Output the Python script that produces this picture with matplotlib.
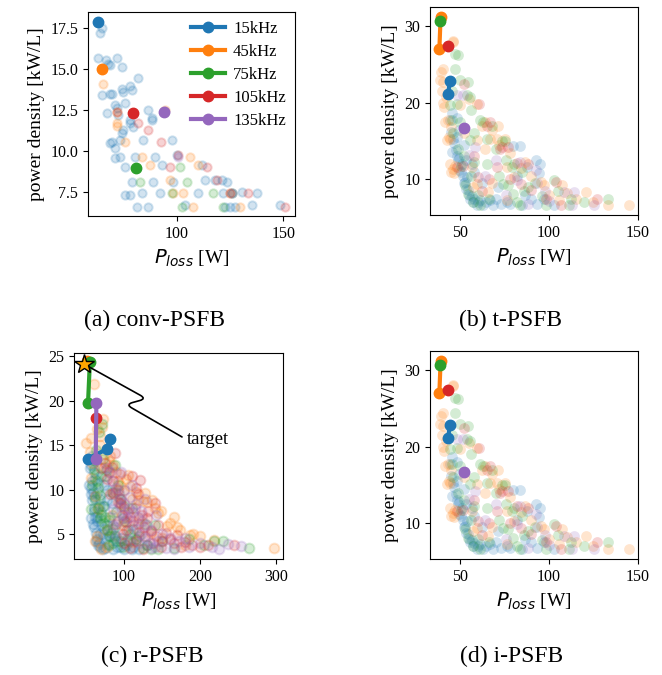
import matplotlib
matplotlib.use("Agg")
import matplotlib.pyplot as plt

plt.rcParams['font.family'] = ['Liberation Serif', 'DejaVu Serif']
plt.rcParams['mathtext.fontset'] = 'dejavusans'

freqs = ['15kHz', '45kHz', '75kHz', '105kHz', '135kHz']
colors = ['tab:blue', 'tab:orange', 'tab:green', 'tab:red', 'tab:purple']

# --- (a) conv-PSFB: all designs (faded) ---
a_blue_x = [64.8, 64.1, 63.3, 66.9, 68.0, 71.9, 74.2, 68.8, 64.8, 68.8, 69.5, 75.0, 78.9, 74.2, 78.1, 82.0,
            67.2, 71.1, 71.9, 75.8, 72.5, 68.8, 69.5, 71.1, 73.4, 74.2, 75.0, 78.1, 79.7, 78.1, 86.7, 88.3,
            88.3, 84.4, 97.7, 71.1, 73.4, 75.8, 80.5, 89.8, 92.9, 100.0, 78.9, 89.1, 98.4, 75.8, 78.1, 83.6,
            92.2, 110.2, 111.7, 113.3, 117.9, 121.1, 123.4, 121.9, 125.8, 130.5, 137.5, 81.3, 86.7, 103.9,
            122.7, 127.3, 135.2, 148.4, 125.0]
a_blue_y = [17.46, 17.16, 15.64, 15.54, 15.3, 15.64, 15.13, 15.23, 13.41, 13.5, 13.5, 13.6, 13.7, 13.8, 13.96, 14.42,
            12.3, 12.8, 12.6, 12.9, 12.2, 10.47, 10.57, 10.17, 10.68, 11.08, 11.28, 11.69, 11.49, 11.9, 12.5, 11.9,
            12.0, 10.68, 10.68, 9.56, 9.66, 9.06, 9.66, 9.66, 9.16, 9.77, 8.15, 8.15, 8.15, 7.34, 7.34, 7.44,
            7.44, 7.44, 9.16, 8.25, 8.25, 8.25, 8.1, 7.44, 7.44, 7.54, 7.48, 6.63, 6.63, 6.73,
            6.63, 6.63, 6.73, 6.73, 6.63]
a_orange_x = [65.6, 71.9, 71.9, 71.9, 75.8, 83.6, 87.5, 96.9, 106.3, 110.2, 98.4, 103.1, 107.8, 129.7, 94.5, 125.0]
a_orange_y = [14.1, 12.4, 11.7, 11.5, 10.58, 9.66, 9.16, 8.25, 9.66, 9.16, 7.44, 7.44, 6.63, 6.63, 12.5, 7.44]
a_green_x = [82.8, 97.7, 101.6, 104.7, 102.3, 117.2, 121.9, 125.8]
a_green_y = [8.15, 7.44, 9.06, 8.15, 6.63, 7.44, 6.63, 7.44]
a_red_x = [72.2, 82.0, 86.7, 92.8, 96.9, 100.8, 114.1, 118.8, 133.6, 150.8, 125.0]
a_red_y = [12.4, 11.7, 11.28, 10.58, 9.06, 9.77, 9.06, 8.25, 7.44, 6.63, 7.44]
a_purple_x = [100.8, 125.8, 94.5]
a_purple_y = [9.66, 7.44, 12.45]

# (a) pareto front per frequency
a_front_x = [[63.0], [64.8], [80.9], [79.7], [94.2]]
a_front_y = [[17.86], [15.0], [9.0], [12.3], [12.35]]

# --- (b) t-PSFB and (d) i-PSFB (same results) ---
b_blue_x = [45.1, 44.2, 47.9, 46.0, 47.5, 45.1, 48.5, 49.5, 50.8, 51.7, 52.6, 53.6, 54.5, 55.5, 57.3, 59.2,
            61.1, 63.0, 66.7, 68.6, 56.4, 52.0, 49.0, 58.0, 62.0, 79.9, 83.6, 87.4, 81.8, 92.5, 94.4, 93.4,
            97.2, 86.5, 102.8, 71.4, 76.1,
            44.5, 46.5, 48.0, 49.5, 50.5, 52.0, 53.0, 55.0, 56.5, 58.0, 60.0, 64.5, 70.0, 73.0, 78.0, 85.0,
            90.0, 95.0, 48.0, 53.0]
b_blue_y = [18.6, 17.7, 18.0, 15.3, 13.8, 13.6, 12.5, 11.2, 12.0, 10.5, 9.7, 10.3, 8.6, 7.5, 7.0, 6.6,
            7.3, 6.6, 7.3, 6.6, 12.0, 14.5, 16.5, 11.0, 9.5, 14.4, 14.4, 11.6, 10.5, 12.5, 10.8, 6.8,
            7.5, 8.0, 6.6, 9.0, 7.0,
            16.2, 14.8, 13.0, 12.8, 11.0, 9.5, 8.8, 8.0, 7.8, 7.4, 7.0, 7.0, 7.5, 6.8, 6.8, 6.6,
            7.5, 12.0, 15.5, 12.5]
b_orange_x = [39.1, 40.0, 41.9, 41.0, 42.9, 44.7, 45.7, 46.6, 45.7, 46.1, 40.4, 42.3, 44.2, 49.8, 59.2, 63.9,
              71.4, 66.7, 75.2, 70.5, 59.2, 63.9, 56.4, 76.1, 47.0, 59.2, 65.8, 76.1, 95.3, 97.2, 107.5, 115.0,
              120.7, 105.6, 133.1, 145.1, 86.5, 80.5,
              38.8, 39.5, 40.5, 41.5, 43.5, 44.0, 45.0, 52.0, 55.0, 62.0, 68.0, 72.0, 78.0, 84.0, 90.0, 100.0,
              110.0, 125.0, 57.0, 68.0]
b_orange_y = [24.0, 22.7, 20.8, 19.5, 17.7, 16.9, 11.4, 10.8, 28.1, 27.9, 24.4, 15.1, 15.3, 19.7, 19.9, 17.5,
              17.0, 15.3, 15.3, 15.3, 15.1, 14.0, 11.6, 11.6, 11.8, 9.4, 8.3, 7.3, 9.7, 9.2, 9.2, 7.5,
              8.3, 7.3, 6.6, 6.6, 12.3, 10.3,
              23.0, 21.5, 20.0, 17.5, 15.5, 12.0, 11.0, 16.0, 20.5, 17.0, 16.5, 14.5, 13.5, 11.5, 10.5, 8.0,
              8.2, 7.0, 9.0, 9.5]
b_green_x = [47.0, 48.5, 47.0, 54.5, 53.6, 55.5, 47.9, 44.2, 45.1, 49.8, 61.1, 63.0, 67.7, 65.0, 73.3, 75.1,
             55.4, 58.0, 78.9, 80.5, 50.5, 52.6, 54.5, 57.3, 61.1, 74.2, 77.1, 79.9, 81.8, 83.6, 102.8, 112.6,
             133.1, 98.1, 111.3, 88.0,
             45.5, 50.0, 56.0, 46.0, 48.5, 52.0, 56.0, 60.0, 65.0, 70.0, 72.0, 76.0, 85.0, 92.0, 96.0, 105.0,
             120.0, 66.0, 58.0, 86.0]
b_green_y = [26.4, 26.2, 24.4, 22.7, 21.0, 20.7, 19.9, 19.7, 17.7, 17.5, 17.7, 17.5, 17.0, 15.3, 15.0, 15.0,
             15.1, 12.3, 11.6, 12.0, 11.8, 9.2, 8.1, 7.0, 6.6, 9.4, 9.2, 8.1, 7.0, 6.6, 9.9, 7.5,
             7.5, 6.6, 6.6, 9.0,
             21.5, 23.0, 19.0, 16.0, 14.0, 13.0, 10.5, 8.0, 12.0, 14.0, 10.5, 12.5, 11.0, 9.5, 7.8, 8.5,
             7.0, 7.5, 16.0, 8.5]
b_red_x = [52.0, 60.5, 64.8, 66.7, 72.2, 73.3, 77.1, 70.5, 48.0, 51.7, 60.0, 66.0, 78.0, 84.0, 90.0, 98.1,
           103.8, 106.6, 127.3, 88.0, 82.0, 58.0, 62.0]
b_red_y = [22.5, 19.8, 17.0, 17.5, 14.0, 14.2, 14.2, 11.6, 11.6, 11.8, 10.3, 10.0, 10.0, 9.4, 8.6, 7.5,
           9.7, 6.6, 7.5, 12.0, 12.2, 13.0, 8.5]
b_purple_x = [48.0, 51.7, 58.3, 55.0, 83.6, 82.0, 92.5, 93.4, 98.0, 108.5, 114.1, 113.2, 125.4, 70.0, 64.0, 76.0,
              88.0, 100.0]
b_purple_y = [21.0, 21.0, 14.2, 13.2, 12.3, 9.9, 11.2, 9.5, 8.5, 8.3, 8.3, 6.6, 6.6, 12.5, 10.5, 8.0,
              6.8, 7.2]

b_front_x = [[44.0, 43.2], [38.9, 38.2], [38.5], [43.2], [52.0]]
b_front_y = [[22.9, 21.1], [31.2, 27.0], [30.7], [27.4], [16.7]]

# --- (c) r-PSFB ---
c_blue_x = [55, 58, 56, 60, 62, 57, 59, 63, 65, 58, 61, 66, 68, 64, 70, 72, 67, 75, 78, 74,
            80, 85, 90, 82, 95, 100, 105, 110, 120, 88, 93, 62, 70, 77, 84, 98, 115, 130, 72, 66,
            54, 56, 60, 63, 68, 57, 59, 61,
            58, 62, 65, 67, 70, 73, 76, 79, 83, 87, 91, 96, 102, 108, 112, 60, 64, 69, 74, 78]
c_blue_y = [12.5, 11.0, 9.5, 8.0, 7.0, 10.2, 6.2, 5.2, 4.5, 8.8, 12.0, 10.8, 9.0, 6.5, 7.5, 5.0, 4.0, 3.5, 6.0, 8.2,
            4.8, 3.4, 4.2, 7.0, 3.6, 3.3, 5.5, 3.4, 3.3, 5.8, 9.5, 13.2, 11.5, 10.0, 8.5, 6.8, 4.5, 3.8, 3.4, 3.8,
            10.5, 6.8, 5.8, 4.2, 3.6, 12.8, 9.8, 7.6,
            13.8, 11.2, 9.6, 8.2, 6.2, 5.6, 4.6, 3.9, 5.2, 4.6, 3.6, 4.6, 3.8, 4.2, 3.6, 9.2, 7.0, 5.0, 10.5, 8.8]
c_orange_x = [60, 52, 50, 72, 71, 69, 75, 80, 85, 90, 95, 100, 110, 118, 125, 130, 140, 145, 156, 165,
              174, 187, 200, 218, 297, 58, 56, 62, 66, 78, 98, 112, 135, 150, 180, 105, 88, 120, 70, 64,
              55, 57, 65, 68, 74, 82, 92, 102, 108, 115, 128, 137, 148, 160, 170, 190, 78, 62, 84, 96]
c_orange_y = [21.9, 19.7, 15.3, 17.9, 17.0, 16.0, 14.0, 13.2, 12.8, 12.0, 10.5, 10.0, 9.0, 8.8, 8.7, 8.6, 7.9, 7.4, 5.9, 7.0,
              5.5, 4.9, 4.8, 4.4, 3.5, 13.0, 11.3, 9.3, 7.8, 5.5, 6.0, 4.1, 5.2, 4.6, 3.8, 11.7, 9.8, 6.8, 3.4, 4.8,
              14.2, 15.8, 16.8, 15.0, 12.6, 13.8, 11.0, 11.2, 10.4, 9.8, 9.6, 8.8, 7.6, 6.3, 5.8, 5.0, 3.6, 4.2, 7.2, 8.4]
c_green_x = [71, 67, 63, 60, 58, 62, 66, 70, 74, 78, 82, 86, 90, 95, 100, 108, 115, 125, 135, 150,
             165, 185, 205, 218, 230, 264, 57, 64, 76, 92, 110, 140, 80, 72, 68, 88,
             60, 63, 66, 69, 72, 75, 80, 85, 88, 94, 98, 104, 112, 120, 130, 145, 76, 84, 100, 128]
c_green_y = [17.4, 16.5, 14.5, 12.3, 10.5, 9.0, 8.0, 7.2, 6.3, 5.5, 4.8, 4.0, 7.5, 9.0, 6.5, 5.0, 4.5, 3.5, 3.3, 4.2,
             3.5, 4.5, 3.8, 4.3, 4.2, 3.5, 7.8, 11.0, 11.5, 10.5, 8.0, 6.0, 3.8, 13.5, 6.8, 12.8,
             13.6, 11.8, 10.2, 9.4, 8.2, 7.0, 6.6, 5.6, 4.8, 4.2, 3.6, 4.4, 5.6, 4.8, 3.8, 3.4, 12.2, 9.8, 8.2, 6.2]
c_red_x = [70, 75, 80, 85, 88, 92, 96, 100, 105, 110, 112, 118, 121, 126, 132, 140, 145, 155, 160, 170,
           180, 189, 200, 210, 244, 102, 115, 125, 138, 148, 90, 98, 108, 128, 95, 82,
           78, 86, 92, 97, 103, 108, 114, 118, 124, 130, 135, 142, 150, 165, 175, 84, 95, 115, 120, 100]
c_red_y = [12.5, 13.0, 12.0, 11.0, 14.1, 10.0, 9.0, 8.0, 7.5, 11.5, 6.5, 9.5, 11.1, 5.8, 7.6, 8.5, 6.0, 5.2, 4.5, 4.9,
           4.1, 3.8, 3.6, 3.8, 3.8, 5.5, 4.3, 3.4, 4.0, 3.6, 6.2, 5.0, 3.5, 4.8, 8.5, 9.5,
           11.2, 9.6, 8.6, 7.2, 6.4, 7.0, 8.0, 6.2, 7.2, 6.8, 5.4, 4.8, 4.2, 4.0, 3.6, 12.6, 11.8, 10.2, 5.3, 4.0]
c_purple_x = [78, 84, 90, 95, 100, 106, 112, 118, 124, 130, 136, 142, 150, 160, 172, 185, 200, 215, 236, 253,
              105, 120, 135, 92, 86, 110, 128, 145, 165, 96,
              82, 88, 94, 99, 104, 110, 116, 122, 128, 134, 140, 155, 100, 108, 115, 122, 85, 90, 180, 225]
c_purple_y = [12.5, 11.0, 10.2, 9.0, 8.5, 8.0, 7.5, 7.0, 6.5, 6.0, 5.5, 7.2, 5.0, 4.6, 4.2, 3.6, 4.0, 3.6, 3.9, 3.7,
              4.5, 4.0, 3.5, 6.5, 7.8, 10.5, 9.0, 4.2, 3.4, 12.0,
              12.0, 9.8, 8.2, 7.2, 6.8, 6.0, 5.6, 5.0, 4.6, 4.0, 3.6, 3.5, 10.0, 9.2, 8.4, 7.6, 6.0, 4.8, 4.6, 3.4]

c_front_x = [[52.6, 78.1, 81.1], [51.8], [55.0, 52.6], [62.7], [63.6, 62.7]]
c_front_y = [[13.5, 14.6, 15.7], [24.5], [24.3, 19.7], [18.1], [19.7, 13.5]]

target_x, target_y = 47.8, 24.1

a_cloud = [(a_blue_x, a_blue_y), (a_orange_x, a_orange_y), (a_green_x, a_green_y),
           (a_red_x, a_red_y), (a_purple_x, a_purple_y)]
b_cloud = [(b_blue_x, b_blue_y), (b_orange_x, b_orange_y), (b_green_x, b_green_y),
           (b_red_x, b_red_y), (b_purple_x, b_purple_y)]
c_cloud = [(c_blue_x, c_blue_y), (c_orange_x, c_orange_y), (c_green_x, c_green_y),
           (c_red_x, c_red_y), (c_purple_x, c_purple_y)]


def draw_panel(ax, cloud, front_x, front_y, filled, size):
    for (xs, ys), c in zip(cloud, colors):
        if filled:
            ax.scatter(xs, ys, s=size, color=c, alpha=0.2, linewidths=0)
        else:
            ax.scatter(xs, ys, s=size, color=c, alpha=0.2, linewidths=1.4)
    for fx, fy, c, f in zip(front_x, front_y, colors, freqs):
        ax.plot(fx, fy, '-o', color=c, lw=3, ms=7.5, label=f)
    ax.set_xlabel(r'$P_{loss}$ [W]', fontsize=14)
    ax.set_ylabel('power density [kW/L]', fontsize=14)
    ax.tick_params(labelsize=11.5)


fig = plt.figure(figsize=(6.62, 6.75), dpi=100)
ax_a = fig.add_axes([0.1329, 0.680, 0.3127, 0.3022])
ax_b = fig.add_axes([0.6495, 0.6815, 0.3142, 0.3081])
ax_c = fig.add_axes([0.1118, 0.1719, 0.3157, 0.3052])
ax_d = fig.add_axes([0.6495, 0.1719, 0.3142, 0.3081])

draw_panel(ax_a, a_cloud, a_front_x, a_front_y, False, 36)
ax_a.set_xlim(58.4, 155.5)
ax_a.set_ylim(6.06, 18.45)
ax_a.set_xticks([100, 150])
ax_a.set_yticks([7.5, 10.0, 12.5, 15.0, 17.5])
ax_a.legend(loc='upper right', frameon=False, fontsize=12, handlelength=2.0,
            handletextpad=0.5, labelspacing=0.42, borderaxespad=0.15)

for ax in (ax_b, ax_d):
    draw_panel(ax, b_cloud, b_front_x, b_front_y, True, 60)
    ax.set_xlim(32.9, 150.2)
    ax.set_ylim(5.35, 32.5)
    ax.set_xticks([50, 100, 150])
    ax.set_yticks([10, 20, 30])

draw_panel(ax_c, c_cloud, c_front_x, c_front_y, False, 50)
ax_c.set_xlim(34.2, 308.8)
ax_c.set_ylim(2.23, 25.37)
ax_c.set_xticks([100, 200, 300])
ax_c.set_yticks([5, 10, 15, 20, 25])
ax_c.plot(target_x, target_y, marker='*', ms=15, color='orange', mec='k', mew=1, zorder=5)
ax_c.annotate('target', xy=(target_x, target_y), xytext=(182.9, 15.6), fontsize=13.5,
              ha='left', va='center',
              arrowprops=dict(arrowstyle='-', color='k', lw=1.2, relpos=(0, 0.5), shrinkB=0,
                              connectionstyle='arc,angleA=150,armA=71,angleB=-29,armB=71,rad=7'))

# captions
fig.text(155 / 662, 1 - 320 / 675, '(a) conv-PSFB', ha='center', va='center', fontsize=17)
fig.text(511 / 662, 1 - 320 / 675, '(b) t-PSFB', ha='center', va='center', fontsize=17)
fig.text(152 / 662, 1 - 656 / 675, '(c) r-PSFB', ha='center', va='center', fontsize=17)
fig.text(512 / 662, 1 - 656 / 675, '(d) i-PSFB', ha='center', va='center', fontsize=17)

fig.savefig('out.png', dpi=100)
